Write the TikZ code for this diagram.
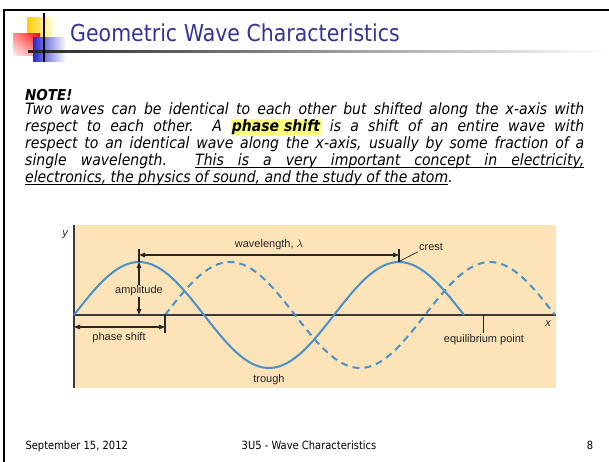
\documentclass[tikz,border=0pt]{standalone}
\usepackage{fontspec}
\setmainfont{DejaVu Sans}[FakeStretch=0.88]
\newfontfamily\notefont{DejaVu Sans}[FakeStretch=0.9]
\newfontfamily\figfont{Liberation Sans}
\usetikzlibrary{arrows.meta,positioning,calc,shadings}
\definecolor{SlideBlue}{HTML}{333399}
\definecolor{WaveBlue}{HTML}{4A90C9}
\definecolor{WaveTan}{HTML}{FDE4B8}
\definecolor{AxisGray}{HTML}{3A3A3A}
\definecolor{MarkYellow}{HTML}{FFFF78}
% underlined word and underlined stretchable space
\newcommand\ulword[1]{\setbox0\hbox{#1}\rlap{\vrule height -1.5pt depth 2.3pt width\wd0}\box0}
\newcommand\ulsp{\leaders\vrule height -1.5pt depth 2.3pt\hskip\fontdimen2\font plus\fontdimen3\font minus\fontdimen4\font\relax}

\begin{document}
\begin{tikzpicture}[x=1pt, y=-1pt,
  wave/.style={WaveBlue, line width=2pt},
  axis/.style={AxisGray, line width=1.3pt},
  guide/.style={black!85, line width=1.1pt},
  dim/.style={guide, {Triangle[length=6pt,width=4.5pt]}-{Triangle[length=6pt,width=4.5pt]}},
  lbl/.style={font=\figfont\fontsize{11}{12}\selectfont, text=black!85, inner sep=1pt},
  foot/.style={font=\fontsize{11.3}{13}\selectfont, anchor=base}]
\useasboundingbox (0,0) rectangle (609,461);
%% slide frame and logo
\draw[line width=2pt] (4,470) -- (4,9.5) -- (615,9.5);
\shade[left color={rgb,255:red,255;green,204;blue,0}, right color=yellow!15] (27,17) rectangle (53,39);
\shade[upper left=red!45, upper right=red, lower left=red!8, lower right=red!40] (13,33) rectangle (40,55);
\shade[left color={rgb,255:red,40;green,40;blue,200}, right color=white] (33,37) rectangle (66,61);
\shade[left color=black!85, right color=white] (28,50) rectangle (609,52.2);
\draw[line width=1.5pt] (44,13) -- (44,62);
\node[anchor=base west, text=SlideBlue, font=\fontsize{23.3}{28}\selectfont, inner sep=0pt] (title) at (70,41) {Geometric Wave Characteristics};
%% note text
\node[anchor=base west, font=\notefont\bfseries\itshape\fontsize{15}{17}\selectfont, inner sep=0pt] (note) at (25,100) {NOTE!};
\node[anchor=north west, text width=559pt, align=justify, inner sep=0pt,
      font=\notefont\itshape\fontsize{15.6}{17.2}\selectfont] (para) at (25,102)
  {Two waves can be identical to each other but shifted along the x-axis with\linebreak
   respect to each other.\ \ A {\setlength{\fboxsep}{0.6pt}\colorbox{MarkYellow}{\bfseries phase shift}} is a shift of an entire wave with\linebreak
   respect to an identical wave along the x-axis, usually by some fraction of a\linebreak
   single wavelength.\ \ \ulword{This}\ulsp\ulword{is}\ulsp\ulword{a}\ulsp\ulword{very}\ulsp\ulword{important}\ulsp\ulword{concept}\ulsp\ulword{in}\ulsp\ulword{electricity,}\linebreak
   \ulword{electronics,}\ulsp\ulword{the}\ulsp\ulword{physics}\ulsp\ulword{of}\ulsp\ulword{sound,}\ulsp\ulword{and}\ulsp\ulword{the}\ulsp\ulword{study}\ulsp\ulword{of}\ulsp\ulword{the}\ulsp\ulword{atom}.};
%% wave figure
\fill[WaveTan] (73,225) rectangle (556,388);
\coordinate (yTop) at (74,225);  \coordinate (yBot) at (74,388);
\coordinate (origin) at (74,315); \coordinate (xEnd) at (556,315);
\draw[axis] (yTop) -- (yBot);
\draw[axis] (origin) -- (xEnd);
\node[lbl, font=\figfont\itshape\fontsize{11}{12}\selectfont] (ylab) at (65,235) {y};
\node[lbl, font=\figfont\itshape\fontsize{11}{12}\selectfont] (xlab) at (548,324) {x};
\draw[wave] plot[domain=0:390, samples=121, smooth] ({74+\x}, {315-53*sin(\x*18/13)});
\draw[wave, dash pattern=on 7pt off 5pt] plot[domain=0:390, samples=121, smooth] ({165+\x}, {315-53*sin(\x*18/13)});
%% wavelength
\coordinate (crestA) at (139,262); \coordinate (crestB) at (399,262);
\coordinate (wlA) at (139,255);   \coordinate (wlB) at (399,255);
\draw[guide] (139,249) -- (crestA);
\draw[guide] (399,249) -- (crestB);
\draw[dim] (wlA) -- (wlB);
\node[lbl] (wavelength) at (269,245) {wavelength, $\lambda$};
%% amplitude
\coordinate (ampBot) at (139,315);
\draw[dim] (crestA) -- (ampBot);
\node[lbl, fill=WaveTan] (amplitude) at (139,291) {amplitude};
%% phase shift
\coordinate (psA) at (74,327); \coordinate (psB) at (165,327);
\draw[guide] (165,314) -- (165,333);
\draw[dim] (psA) -- (psB);
\node[lbl] (phase) at (119,338) {phase shift};
%% crest, trough, equilibrium
\node[lbl] (crest) at (431,247) {crest};
\draw[guide, line width=0.7pt] (400,261) -- (crest.south west);
\node[lbl] (trough) at (269,380) {trough};
\coordinate (eqTop) at (483,315);
\node[lbl, anchor=north] (equil) at (484,333) {equilibrium point};
\draw[guide, line width=0.9pt] (eqTop) -- (equil.north -| eqTop);
%% footer
\node[foot, anchor=base west] (date) at (22,449) {September 15, 2012};
\node[foot] (course) at (309,449) {3U5 - Wave Characteristics};
\node[foot] (page) at (590,449) {8};
\end{tikzpicture}
\end{document}
